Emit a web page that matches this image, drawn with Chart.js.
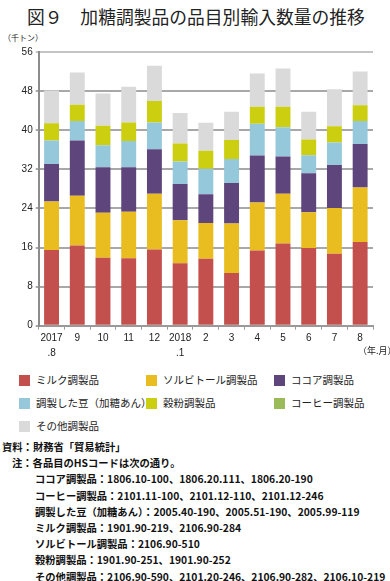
<!DOCTYPE html>
<html lang="ja">
<head>
<meta charset="utf-8">
<script src="https://cdn.jsdelivr.net/npm/chart.js@4/dist/chart.umd.min.js"></script>
<style>
  body { margin: 0; width: 390px; height: 581px; background: #fff; position: relative; overflow: hidden;
    font-family: "Noto Sans CJK JP", "Noto Sans", sans-serif; color: #222; }
  .abs { position: absolute; white-space: nowrap; }
  #title { left: 27px; top: 4px; font-size: 17.8px; line-height: 24px; color: #222; }
  #unit { left: 3px; top: 32px; font-size: 8px; line-height: 12px; }
  #ym { left: 358px; top: 345px; font-size: 9px; line-height: 12px; }
  #wrap { left: 0; top: 40px; width: 390px; height: 325px; }
  .leg { position: absolute; font-size: 10.5px; line-height: 14px; }
  .leg i { position: absolute; left: 0; top: 1px; width: 11px; height: 11px; }
  .leg span { position: absolute; left: 17px; top: -1px; white-space: nowrap; }
  #notes { left: 2px; top: 439px; font-size: 10.3px; line-height: 16.2px; font-weight: bold; color: #111; }
  #notes div.i1 { padding-left: 10px; }
  #notes div.i2 { padding-left: 33px; }
</style>
</head>
<body>
<div id="title" class="abs">図９　加糖調製品の品目別輸入数量の推移</div>
<div id="unit" class="abs">（千トン）</div>
<div id="wrap" class="abs"><canvas id="chart"></canvas></div>
<div id="ym" class="abs">（年.月）</div>
<div id="legend"></div>
<div id="notes" class="abs">
  <div>資料：財務省「貿易統計」</div>
  <div class="i1">注：各品目のHSコードは次の通り。</div>
  <div class="i2">ココア調製品：1806.10-100、1806.20.111、1806.20-190</div>
  <div class="i2">コーヒー調製品：2101.11-100、2101.12-110、2101.12-246</div>
  <div class="i2">調製した豆（加糖あん）：2005.40-190、2005.51-190、2005.99-119</div>
  <div class="i2">ミルク調製品：1901.90-219、2106.90-284</div>
  <div class="i2">ソルビトール調製品：2106.90-510</div>
  <div class="i2">穀粉調製品：1901.90-251、1901.90-252</div>
  <div class="i2">その他調製品：2106.90-590、2101.20-246、2106.90-282、2106.10-219</div>
</div>
<script>
// months (2017.8 - 2018.8)
const months = [['2017', '.8'], '9', '10', '11', '12', ['2018', '.1'], '2', '3', '4', '5', '6', '7', '8'];
const yTicks = [0, 8, 16, 24, 32, 40, 48, 56];

// thousand tons
const milk = [15.5, 16.4, 13.9, 13.8, 15.6, 12.8, 13.7, 10.8, 15.4, 16.8, 15.9, 14.7, 17.1];
const sorbitol = [9.9, 10.2, 9.2, 9.5, 11.4, 8.8, 7.3, 10.1, 9.8, 10.2, 7.3, 9.4, 11.2];
const cocoa = [7.7, 11.3, 9.3, 9.1, 9.1, 7.4, 5.9, 8.3, 9.6, 7.6, 8.0, 8.8, 8.9];
const beans = [4.8, 4.0, 4.5, 5.4, 5.5, 4.6, 5.2, 4.9, 6.5, 6.0, 3.7, 4.6, 4.7];
const flour = [3.5, 3.3, 4.0, 3.8, 4.4, 3.7, 3.7, 3.9, 3.5, 4.2, 3.2, 3.3, 3.2];
const coffee = [0, 0, 0, 0, 0, 0, 0, 0, 0, 0, 0, 0, 0];
const other = [6.7, 6.6, 6.6, 7.3, 7.2, 6.2, 5.7, 5.8, 6.8, 7.8, 5.7, 7.6, 6.9];

const series = [
  { label: 'ミルク調製品', data: milk, color: '#c4504d' },
  { label: 'ソルビトール調製品', data: sorbitol, color: '#e9bd20' },
  { label: 'ココア調製品', data: cocoa, color: '#5e457c' },
  { label: '調製した豆（加糖あん）', data: beans, color: '#96c8dc' },
  { label: '穀粉調製品', data: flour, color: '#cbcf10' },
  { label: 'コーヒー調製品', data: coffee, color: '#9bbb59' },
  { label: 'その他調製品', data: other, color: '#dadada' }
];

// legend, three columns
const legend = document.getElementById('legend');
const colX = [19, 146, 274];
const rowY = [374, 397, 420];
series.forEach((s, i) => {
  const el = document.createElement('div');
  el.className = 'leg';
  el.style.left = colX[i % 3] + 'px';
  el.style.top = rowY[Math.floor(i / 3)] + 'px';
  el.innerHTML = `<i style="background:${s.color}"></i><span>${s.label}</span>`;
  legend.appendChild(el);
});

new Chart(document.getElementById('chart'), {
  type: 'bar',
  data: {
    labels: months,
    datasets: series.map(s => ({
      label: s.label,
      data: s.data,
      backgroundColor: s.color,
      borderWidth: 0,
      barPercentage: 0.58,
      categoryPercentage: 1
    }))
  },
  options: {
    responsive: true,
    maintainAspectRatio: false,
    animation: false,
    layout: { padding: { top: 12, bottom: 4, left: 4, right: 17 } },
    plugins: {
      legend: { display: false },
      tooltip: { enabled: false }
    },
    scales: {
      x: {
        stacked: true,
        afterFit: scale => { scale.height = 35.3; },
        grid: { offset: true, drawOnChartArea: false, tickLength: 4, color: '#999', lineWidth: 1 },
        border: { color: '#999', width: 2 },
        ticks: {
          color: '#222',
          maxRotation: 0,
          autoSkip: false,
          padding: 1,
          font: { family: 'Liberation Sans, Arial, sans-serif', size: 10, lineHeight: 1.5 }
        }
      },
      y: {
        stacked: true,
        min: 0,
        max: 56,
        afterFit: scale => { scale.width = 34.7; },
        afterBuildTicks: scale => { scale.ticks = yTicks.map(v => ({ value: v })); },
        grid: {
          color: ctx => (ctx.tick && ctx.tick.value === 56 ? '#c4c4c4' : '#a8a8a8'),
          lineWidth: 2,
          tickLength: 3,
          drawTicks: true
        },
        border: { color: '#8c8c8c', width: 2 },
        ticks: {
          color: '#222',
          padding: 3,
          font: { family: 'Liberation Sans, Arial, sans-serif', size: 10 }
        }
      }
    }
  }
});
</script>
</body>
</html>
